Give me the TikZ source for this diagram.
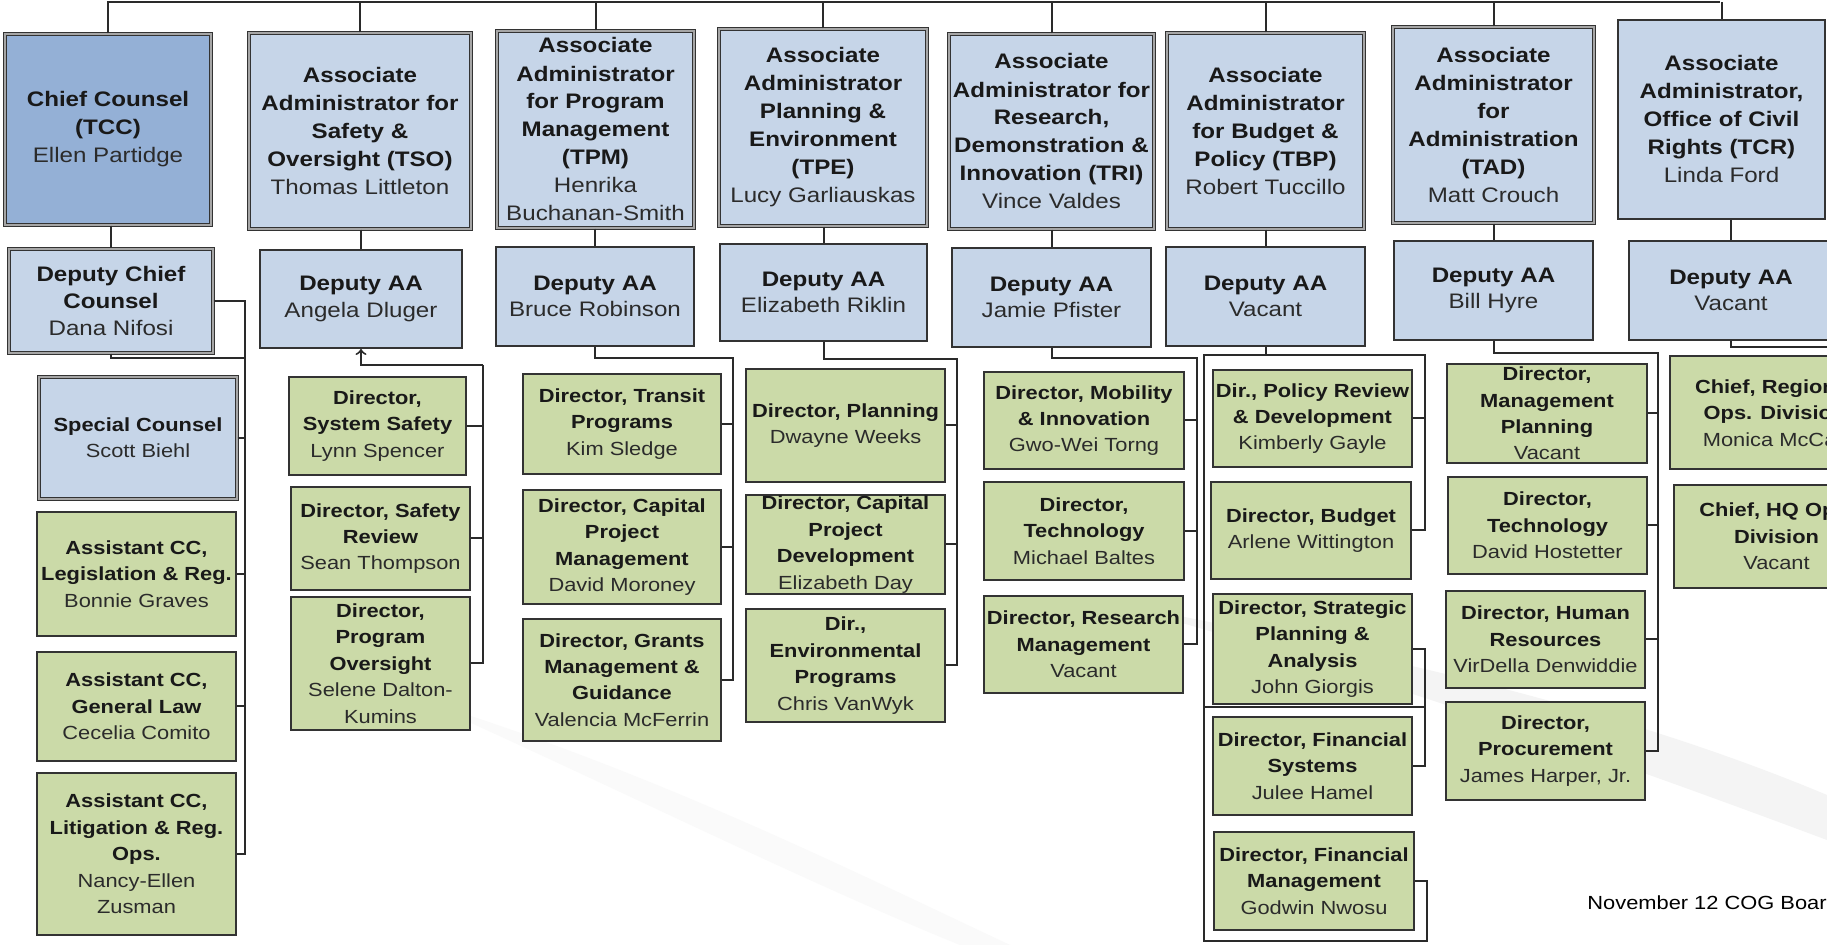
\documentclass[tikz,border=0pt]{standalone}
\usepackage{fontspec}
\setmainfont{Liberation Sans}[FakeStretch=1.15]
\usetikzlibrary{arrows}

\definecolor{aablue}{HTML}{C6D5E8}
\definecolor{ccblue}{HTML}{94B0D6}
\definecolor{dirgreen}{HTML}{CBDAA8}
\definecolor{edge}{HTML}{333333}
\definecolor{wiregray}{HTML}{2A2A2A}
\definecolor{namegray}{HTML}{2B2B2B}

\newcommand{\who}[1]{{\mdseries\color{namegray}#1}}

\begin{document}
\begin{tikzpicture}[x=0.5pt, y=-0.5pt, >=to,
    wh/.style 2 args={minimum width={#1*0.5pt}, minimum height={#2*0.5pt}},
    box/.style={rectangle, draw=edge, line width=1pt, inner sep=0pt, align=center, text=black!90},
    big/.style={font=\fontsize{10.5}{14}\selectfont\bfseries},
    mid/.style={font=\fontsize{10.5}{13.3}\selectfont\bfseries},
    small/.style={font=\fontsize{9.5}{13.2}\selectfont\bfseries},
    dbl/.style={line width=0.7pt, double=gray!70, double distance=0.7pt},
    ccbox/.style={box, big, dbl, fill=ccblue},
    aabox/.style={box, big, dbl, fill=aablue},
    aaplain/.style={box, big, fill=aablue},
    depbox/.style={box, mid, fill=aablue},
    depdbl/.style={box, mid, dbl, fill=aablue},
    spbox/.style={box, small, dbl, fill=aablue},
    dirbox/.style={box, small, fill=dirgreen},
    wire/.style={draw=wiregray, line width=1pt},
    swoosh/.style={fill=gray!9}]

  \path[use as bounding box, clip] (0,0) rectangle (1827,945);
  \fill[white] (0,0) rectangle (1827,945);
  \fill[swoosh] (1100,600) .. controls (1350,650) and (1600,700) .. (1827,795)
    -- (1827,840) .. controls (1600,755) and (1350,668) .. (1100,600);
  \fill[gray!4] (420,700) .. controls (600,780) and (800,880) .. (960,945)
    -- (1010,945) .. controls (850,870) and (650,770) .. (420,700);

  % Associate Administrators
  \node[ccbox, wh={206}{191}] (tcc) at (108,129.5) {Chief Counsel\\(TCC)\\\who{Ellen Partidge}};
  \node[aabox, wh={222}{196}] (tso) at (360,131) {Associate\\Administrator for\\Safety \&\\Oversight (TSO)\\\who{Thomas Littleton}};
  \node[aabox, wh={197}{197}] (tpm) at (595.5,129.5) {Associate\\Administrator\\for Program\\Management\\(TPM)\\\who{Henrika}\\\who{Buchanan-Smith}};
  \node[aabox, wh={208}{197}] (tpe) at (823,127.5) {Associate\\Administrator\\Planning \&\\Environment\\(TPE)\\\who{Lucy Garliauskas}};
  \node[aabox, wh={205}{195}] (tri) at (1051.5,131.5) {Associate\\Administrator for\\Research,\\Demonstration \&\\Innovation (TRI)\\\who{Vince Valdes}};
  \node[aabox, wh={197}{196}] (tbp) at (1265.5,131) {Associate\\Administrator\\for Budget \&\\Policy (TBP)\\\who{Robert Tuccillo}};
  \node[aabox, wh={201}{196}] (tad) at (1493.5,125) {Associate\\Administrator\\for\\Administration\\(TAD)\\\who{Matt Crouch}};
  \node[aaplain, wh={207}{199}] (tcr) at (1721.5,119.5) {Associate\\Administrator,\\Office of Civil\\Rights (TCR)\\\who{Linda Ford}};

  % Deputies
  \node[depdbl, wh={204}{104}] (dcc) at (111,301) {Deputy Chief\\Counsel\\\who{Dana Nifosi}};
  \node[depbox, wh={202}{98}] (dtso) at (361,299) {Deputy AA\\\who{Angela Dluger}};
  \node[depbox, wh={198}{99}] (dtpm) at (595,296.5) {Deputy AA\\\who{Bruce Robinson}};
  \node[depbox, wh={207}{97}] (dtpe) at (823.5,292.5) {Deputy AA\\\who{Elizabeth Riklin}};
  \node[depbox, wh={199}{99}] (dtri) at (1051.5,297.5) {Deputy AA\\\who{Jamie Pfister}};
  \node[depbox, wh={199}{99}] (dtbp) at (1265.5,296.5) {Deputy AA\\\who{Vacant}};
  \node[depbox, wh={199}{99}] (dtad) at (1493.5,290.5) {Deputy AA\\\who{Bill Hyre}};
  \node[depbox, wh={204}{99}] (dtcr) at (1731,290.5) {Deputy AA\\\who{Vacant}};

  % Chief Counsel staff
  \node[spbox, wh={198}{122}] (spc) at (138,438) {Special Counsel\\\who{Scott Biehl}};
  \node[dirbox, wh={199}{124}] (acl) at (136.5,574) {Assistant CC,\\Legislation \& Reg.\\\who{Bonnie Graves}};
  \node[dirbox, wh={199}{109}] (acg) at (136.5,706.5) {Assistant CC,\\General Law\\\who{Cecelia Comito}};
  \node[dirbox, wh={199}{162}] (acr) at (136.5,854) {Assistant CC,\\Litigation \& Reg.\\Ops.\\\who{Nancy-Ellen}\\\who{Zusman}};

  % TSO directors
  \node[dirbox, wh={177}{98}] (dss) at (377.5,426) {Director,\\System Safety\\\who{Lynn Spencer}};
  \node[dirbox, wh={179}{103}] (dsr) at (380.5,538.5) {Director, Safety\\Review\\\who{Sean Thompson}};
  \node[dirbox, wh={179}{133}] (dpo) at (380.5,663.5) {Director,\\Program\\Oversight\\\who{Selene Dalton-}\\\who{Kumins}};

  % TPM directors
  \node[dirbox, wh={198}{100}] (dtp) at (622,424) {Director, Transit\\Programs\\\who{Kim Sledge}};
  \node[dirbox, wh={198}{114}] (dcp) at (622,547) {Director, Capital\\Project\\Management\\\who{David Moroney}};
  \node[dirbox, wh={198}{122}] (dgm) at (622,680) {Director, Grants\\Management \&\\Guidance\\\who{Valencia McFerrin}};

  % TPE directors
  \node[dirbox, wh={199}{113}] (dpl) at (845.5,425.5) {Director, Planning\\\who{Dwayne Weeks}};
  \node[dirbox, wh={199}{99}] (dcd) at (845.5,544.5) {Director, Capital\\Project\\Development\\\who{Elizabeth Day}};
  \node[dirbox, wh={199}{113}] (den) at (845.5,665.5) {Dir.,\\Environmental\\Programs\\\who{Chris VanWyk}};

  % TRI directors
  \node[dirbox, wh={200}{97}] (dmi) at (1084,420.5) {Director, Mobility\\\& Innovation\\\who{Gwo-Wei Torng}};
  \node[dirbox, wh={200}{98}] (dtt) at (1084,531) {Director,\\Technology\\\who{Michael Baltes}};
  \node[dirbox, wh={199}{97}] (drm) at (1083.5,644.5) {Director, Research\\Management\\\who{Vacant}};

  % TBP directors
  \node[dirbox, wh={199}{97}] (dpr) at (1312.5,418.5) {Dir., Policy Review\\\& Development\\\who{Kimberly Gayle}};
  \node[dirbox, wh={200}{97}] (dbu) at (1311,530.5) {Director, Budget\\\who{Arlene Wittington}};
  \node[dirbox, wh={199}{110}] (dsp) at (1312.5,649) {Director, Strategic\\Planning \&\\Analysis\\\who{John Giorgis}};
  \node[dirbox, wh={199}{98}] (dfs) at (1312.5,766) {Director, Financial\\Systems\\\who{Julee Hamel}};
  \node[dirbox, wh={200}{98}] (dfm) at (1314,881) {Director, Financial\\Management\\\who{Godwin Nwosu}};

  % TAD directors
  \node[dirbox, wh={200}{99}] (dmp) at (1547,413.5) {Director,\\Management\\Planning\\\who{Vacant}};
  \node[dirbox, wh={199}{97}] (dte) at (1547.5,525.5) {Director,\\Technology\\\who{David Hostetter}};
  \node[dirbox, wh={199}{97}] (dhr) at (1545.5,639.5) {Director, Human\\Resources\\\who{VirDella Denwiddie}};
  \node[dirbox, wh={199}{98}] (dpc) at (1545.5,751) {Director,\\Procurement\\\who{James Harper, Jr.}};

  % TCR chiefs
  \node[dirbox, wh={209}{113}] (crg) at (1774.5,413) {Chief, Regional\\Ops. Division\\\who{Monica McCall}};
  \node[dirbox, wh={205}{103}] (chq) at (1776.5,536.5) {Chief, HQ Ops.\\Division\\\who{Vacant}};

  \node[anchor=west, inner sep=0pt, font=\fontsize{9.5}{11}\selectfont] (foot) at (1587,903) {November 12 COG Board};

  % top bar
  \coordinate (barL) at (107,2);
  \coordinate (barR) at (1720,2);
  \draw[wire] (barL) -- (barR);
  \foreach \n in {tcc,tso,tpm,tpe,tri,tbp,tad,tcr}
    \draw[wire] (\n.north) -- (\n.north |- barL);

  % heads to deputies
  \foreach \a/\d in {tcc/dcc,tso/dtso,tpm/dtpm,tpe/dtpe,tri/dtri,tbp/dtbp,tad/dtad,tcr/dtcr}
    \draw[wire] (\d.north |- \a.south) -- (\d.north);

  % TCC
  \coordinate (ccbus) at (245,358);
  \draw[wire] (dcc.south) |- (ccbus);
  \draw[wire] (dcc.east) -| (ccbus |- acr.east) -- (acr.east);
  \foreach \n in {spc,acl,acg}
    \draw[wire] (\n.east) -- (\n.east -| ccbus);

  % TSO
  \coordinate (tsobus) at (483,365);
  \draw[wire,->] (tsobus) -| (dtso.south);
  \draw[wire] (tsobus) |- (dpo.east);
  \foreach \n in {dss,dsr}
    \draw[wire] (\n.east) -- (\n.east -| tsobus);

  % TPM
  \coordinate (tpmbus) at (733,358);
  \draw[wire] (dtpm.south) |- (tpmbus) |- (dgm.east);
  \foreach \n in {dtp,dcp}
    \draw[wire] (\n.east) -- (\n.east -| tpmbus);

  % TPE
  \coordinate (tpebus) at (957,359);
  \draw[wire] (dtpe.south) |- (tpebus) |- (den.east);
  \foreach \n in {dpl,dcd}
    \draw[wire] (\n.east) -- (\n.east -| tpebus);

  % TRI
  \coordinate (tribus) at (1197,358);
  \draw[wire] (dtri.south) |- (tribus) |- (drm.east);
  \foreach \n in {dmi,dtt}
    \draw[wire] (\n.east) -- (\n.east -| tribus);

  % TBP
  \coordinate (tbpL) at (1204,355);
  \coordinate (tbpR) at (1425,355);
  \coordinate (tbpB) at (1427,941);
  \coordinate (tbpM) at (1425,707);
  \draw[wire] (dtbp.south) -- (dtbp.south |- tbpL);
  \draw[wire] (dbu.east) -| (tbpR) -- (tbpL) |- (tbpB) |- (dfm.east);
  \draw[wire] (dpr.east) -- (dpr.east -| tbpR);
  \draw[wire] (dsp.east) -| (tbpM |- dfs.east) -- (dfs.east);
  \draw[wire] (tbpL |- tbpM) -- (tbpM);

  % TAD
  \coordinate (tadbus) at (1658,353);
  \draw[wire] (dtad.south) |- (tadbus) |- (dpc.east);
  \foreach \n in {dmp,dte,dhr}
    \draw[wire] (\n.east) -- (\n.east -| tadbus);

  % TCR
  \coordinate (tcrbus) at (1840,347);
  \draw[wire] (dtcr.south) |- (tcrbus);

\end{tikzpicture}
\end{document}
